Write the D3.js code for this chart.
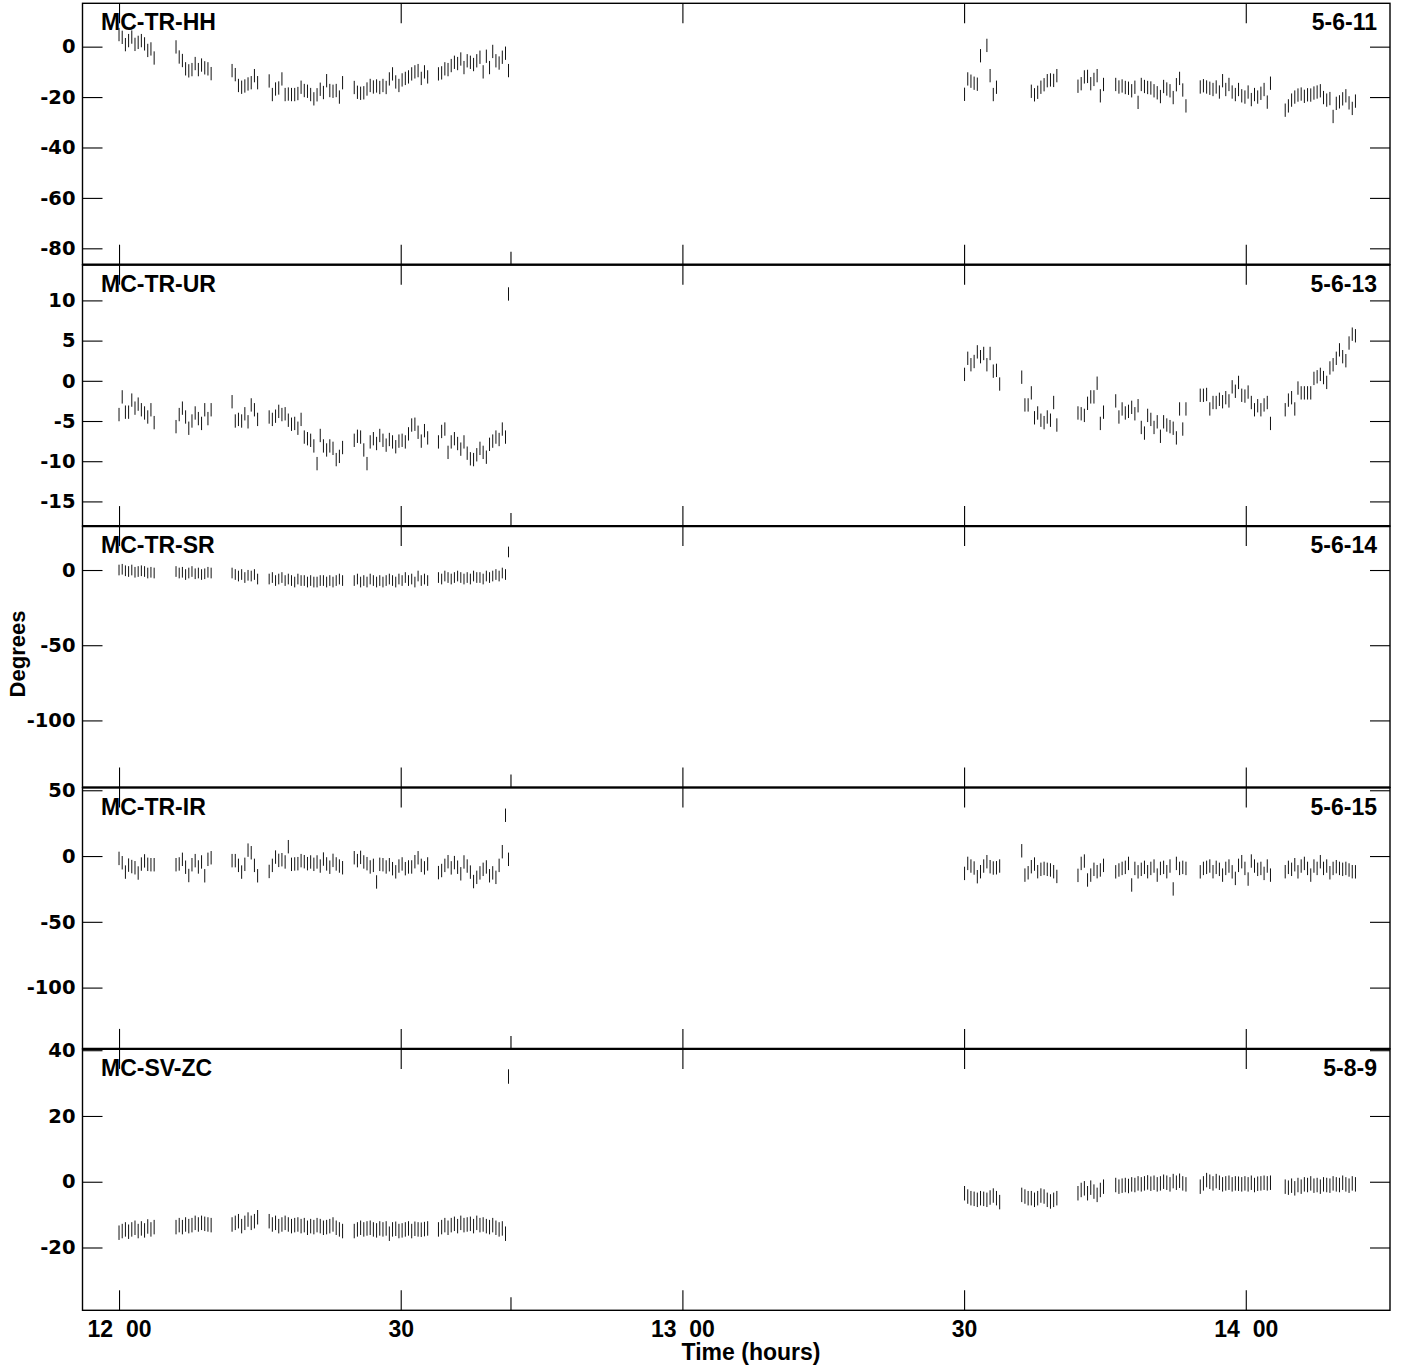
<!DOCTYPE html>
<html><head><meta charset="utf-8">
<script src="https://cdn.jsdelivr.net/npm/d3@7"></script>
<style>body{margin:0;background:#fff}</style>
</head><body>
<svg id="c" width="1401" height="1368"></svg>
<script>
// ---- DATA (minutes after 12:00) ----
const timesA = [
0.00,0.34,0.68,1.02,1.36,1.70,2.04,2.38,2.72,3.06,3.40,3.74,
6.07,6.41,6.75,7.09,7.43,7.77,8.11,8.45,8.79,9.13,9.47,9.81,
12.04,12.38,12.72,13.06,13.40,13.74,14.08,14.42,14.76,
15.99,16.33,16.67,17.01,17.35,17.69,18.03,18.37,18.71,19.05,19.39,19.73,20.07,20.41,20.75,21.09,21.43,21.77,22.11,22.45,22.79,23.13,23.47,23.81,
25.05,25.39,25.73,26.07,26.41,26.75,27.09,27.43,27.77,28.11,28.45,28.79,29.13,29.47,29.81,30.15,30.49,30.83,31.17,31.51,31.85,32.19,32.53,32.87,
34.02,34.36,34.70,35.04,35.38,35.72,36.06,36.40,36.74,37.08,37.42,37.76,38.10,38.44,38.78,39.12,39.46,39.80,40.14,40.48,40.82,41.16,
41.48];
const timesB = [
90.05,90.39,90.73,91.07,91.41,91.75,92.09,92.43,92.77,93.11,93.45,93.79,
96.14,96.48,96.82,97.16,97.50,97.84,98.18,98.52,98.86,99.20,99.54,99.88,
102.13,102.47,102.81,103.15,103.49,103.83,104.17,104.51,104.85,
106.15,106.49,106.83,107.17,107.51,107.85,108.19,108.53,108.87,109.21,109.55,109.89,110.23,110.57,110.91,111.25,111.59,111.93,112.27,112.61,112.95,113.29,113.63,
115.15,115.49,115.83,116.17,116.51,116.85,117.19,117.53,117.87,118.21,118.55,118.89,119.23,119.57,119.91,120.25,120.59,120.93,121.27,121.61,121.95,122.29,122.63,
124.20,124.54,124.88,125.22,125.56,125.90,126.24,126.58,126.92,127.26,127.60,127.94,128.28,128.62,128.96,129.30,129.64,129.98,130.32,130.66,131.00,131.34,131.68];

// MC-TR-HH (5-6-11)
const hhA = [
4.8,3.7,0.8,2.4,3.8,0.9,1.7,2.4,1.1,-1.5,-0.9,-4.5,
-0.1,-4.1,-5.5,-8.8,-9.6,-9.1,-6.7,-9.1,-7.3,-8.4,-8.8,-10.7,
-9.5,-11.1,-15.4,-16.1,-15.6,-14.8,-14.3,-11.5,-14.3,
-13.6,-19,-16.8,-16.4,-12.8,-19,-18.8,-19,-19,-18.6,-16.1,-17.4,-17.7,-19,-20.7,-19.1,-16.9,-18.2,-13.5,-17.4,-17.7,-17.4,-20,-14.3,
-16.2,-18.1,-18.5,-18.3,-16.8,-15.4,-16,-15.6,-16.2,-15.4,-16.2,-12.8,-10.8,-14,-15.4,-13.2,-12.6,-12,-10.8,-10,-9.5,-12.6,-10,-12,
-10.8,-10.4,-8.8,-9.1,-7.5,-6.2,-6.7,-4.9,-8.3,-5.6,-6.2,-7.1,-5.6,-4.2,-10,-3.8,-8.3,-1.9,-5.6,-6.5,-4.2,-2.6,
-9.5];
const hhB = [
-18.9,-12.8,-13.7,-14.5,-14.9,-3.6,null,0.5,-11.5,-19,-16.1,null,
null,null,null,-17.7,-19.1,-18.1,-16.1,-15.1,-13.5,-13.2,-13.4,-11.5,
-15.7,-14.7,-12,-11.8,-14.7,-13,-11.5,-19.5,-15,
-15,-16,-15.6,-16.2,-16.5,-17.5,-16.1,-22.1,-15,-15.8,-16.2,-16.4,-17.5,-18.3,-19.8,-15.8,-16.8,-17.5,-20.2,-15.1,-12.6,-17.2,-23.5,
-16,-15.5,-16,-16.5,-17,-16,-18,-13.5,-17,-15,-18,-19,-17,-19.5,-20,-18,-21,-19,-20,-18.5,-17,-22,-14.5,
-25.2,-23.5,-21.2,-20,-19.2,-18.8,-19.7,-19.1,-19.2,-18.4,-18,-17.5,-20.2,-21.2,-20.6,-27.7,-22.5,-21.9,-20.7,-19.5,-22.3,-24.5,-21.6];

// MC-TR-UR (5-6-13)
const urA = [
-4.2,-2.0,-3.9,-3.9,-2.4,-3.4,-2.9,-3.6,-4.0,-4.5,-3.6,-5.2,
-5.7,-4.2,-3.4,-4.5,-5.9,-5.0,-4.0,-4.7,-5.3,-3.6,-4.7,-3.6,
-2.6,-5.0,-4.8,-5.0,-4.1,-5.1,-3.0,-3.6,-4.8,
-4.5,-4.8,-4.4,-3.8,-4.2,-4.1,-4.9,-5.4,-5.3,-5.9,-4.8,-7.0,-7.2,-7.4,-8.1,-10.3,-6.8,-8.1,-8.6,-8.1,-8.4,-9.8,-9.4,-8.3,
-7.4,-6.9,-7.0,-8.6,-10.3,-7.6,-7.2,-7.8,-6.8,-7.4,-8.0,-7.3,-7.6,-8.2,-7.5,-7.4,-7.6,-6.6,-5.5,-5.4,-6.4,-7.5,-6.2,-7.1,
-7.6,-6.3,-6.0,-8.9,-7.6,-7.2,-7.8,-8.5,-7.6,-9.0,-9.7,-9.8,-9.2,-8.4,-8.9,-9.5,-7.9,-7.5,-7.0,-7.3,-6.0,-7.0,
10.8];
const urB = [
0.8,2.8,2.0,2.4,3.6,3.0,3.4,2.0,3.4,1.2,1.3,-0.4,
0.45,-3.0,-3.0,-1.5,-4.6,-4.0,-4.9,-5.2,-4.5,-4.9,-2.7,-5.5,
-4.0,-4.1,-4.3,-2.8,-2.0,-2.0,-0.3,-5.3,-3.9,
-2.5,-4.5,-3.5,-4.0,-3.8,-3.3,-4.1,-3.1,-5.8,-6.5,-4.3,-4.8,-5.8,-5.1,-6.9,-5.1,-5.5,-5.7,-5.9,-7.1,-3.5,-6.0,-3.5,
-1.8,-1.8,-1.7,-3.5,-2.7,-2.7,-2.3,-2.6,-2.1,-2.5,-0.75,-1.3,-0.2,-1.8,-1.9,-1.4,-2.7,-3.6,-3.1,-3.6,-3.0,-2.7,-5.3,
-3.6,-2.4,-2.1,-3.5,-0.9,-1.5,-1.5,-1.5,-1.5,0.3,0.5,0.8,0.4,-0.2,1.6,2.0,2.8,3.85,3.0,2.5,4.7,5.8,5.6];

// MC-TR-SR (5-6-14)
const srA = [
0,0.5,-0.5,-1,0,-1.5,-1,-0.5,-1,-2,-1.5,-2,
-1,-2,-1.5,-3,-2,-1,-2.5,-2,-3,-2.5,-1.5,-2,
-2,-3,-4,-3,-5,-3.5,-4,-3,-6,
-6,-5,-7,-6,-5,-7,-6,-7,-8,-6,-7,-7,-8,-7,-8,-8,-7,-7,-8,-7,-8,-7,-6,-7,
-7,-6,-8,-7,-8,-6,-7,-8,-7,-8,-7,-6,-7,-8,-6,-7,-5,-7,-6,-8,-4,-7,-6,-7,
-5,-6,-4,-5,-6,-5,-4,-5,-6,-5,-6,-4,-5,-5,-6,-4,-5,-4,-3,-4,-2,-3,
12];
const srB = [];

// MC-TR-IR (5-6-15)
const irA = [
-1.8,-5.1,-12.2,-6.9,-8,-8.9,-12.9,-6.1,-3.7,-6.3,-6.6,-6.6,
-6.6,-6,-2.5,-8.5,-14.8,-6.6,-3.5,-8.3,-4.5,-15,-2.5,-1.3,
-3.5,-3.5,-7.1,-12.2,-6.3,4.5,2.5,-7.1,-15,
-11.7,-7.1,-0.8,-3.3,-2.8,-4.5,7.1,-6.3,-6,-5.8,-3.5,-4.3,-5.8,-4.5,-6.3,-4.5,-7.6,-2.3,-6,-8.5,-3.3,-6,-7.6,-8.9,
-1.3,-3.5,-1,-4.5,-5.8,-8.3,-7.1,-19.7,-6.3,-6.6,-8.3,-6.6,-9.6,-12,-7.6,-6,-9.6,-8.3,-8.3,-4.3,-1.3,-7.1,-9,-6,
-12.6,-11,-7.1,-4.3,-9,-5,-8.5,-13.5,-4.5,-7.6,-12.2,-19.4,-16.2,-12.8,-10.1,-8.3,-15,-12.8,-16.2,-7.1,3.3,31,
-2.5];
const irB = [
-13.2,-5.6,-7.6,-9.1,-15.7,-11.9,-7.6,-4.3,-8.1,-9.1,-8.9,-7.6,
4,-14.5,-12.7,-8.1,-6.1,-11.9,-10.1,-9.4,-10.1,-10.6,-11.9,-15.5,
-14.7,-5.6,-3.8,-18.2,-14.5,-10.1,-11.9,-10.6,-7.1,
-12,-10.6,-9.4,-8.6,-5.6,-22,-9.4,-12,-10.1,-8.6,-11.9,-9.4,-7.6,-14.5,-9.4,-8.6,-11.9,-7.6,-25,-5.6,-9.4,-8.6,-9.4,
-12,-9.4,-8.6,-7.6,-11.9,-8.6,-10.1,-14.5,-9.4,-7.6,-12,-17,-7.1,-4.3,-9.4,-17.5,-3.8,-7.6,-10.1,-9.4,-13.2,-7.6,-14.5,
-11.9,-8.6,-10.1,-6.6,-12,-7.6,-5.6,-9.4,-14.5,-7.6,-9.4,-4.3,-9.4,-7.6,-12.7,-9.4,-8.1,-9.4,-10.1,-9.4,-10.6,-11.9,-12];

// MC-SV-ZC (5-8-9)
const zcA = [
-15.5,-15,-14.5,-15.2,-14.5,-14,-15,-14.2,-14.8,-13.6,-14.5,-13.8,
-13.8,-13.2,-13.8,-13,-13.5,-13.2,-12.5,-13,-12.5,-12.8,-13,-13.2,
-13,-12.5,-12,-13.5,-12.5,-11.5,-12.5,-12,-10.8,
-12,-13,-12.5,-13.5,-13,-12.5,-13,-13.5,-13.2,-13,-13.5,-13.2,-14,-13.5,-13.8,-13.2,-13.5,-14,-13.8,-13.5,-13,-14,-14.5,-15,
-15,-14.5,-14,-14.5,-14.2,-14,-14.5,-14.8,-14.2,-14.5,-14.2,-15.8,-14.5,-14.3,-15,-14.8,-14.5,-14.2,-15,-14.3,-14.5,-14.6,-14.4,-14.2,
-14.5,-13.8,-13.2,-14,-13.2,-12.8,-13.5,-12.5,-13.2,-13,-12.8,-13.5,-12.5,-13.2,-13,-13.5,-13.8,-13.2,-14,-14.5,-14.2,-15.8,
32];
const zcB = [
-3.5,-4.5,-5,-5.2,-5.5,-5,-5.2,-5.5,-4.8,-4.2,-5,-6.2,
-4,-4.5,-5,-5,-5.5,-5,-4.2,-4.5,-5.5,-6,-5.5,-5,
-3.5,-2.5,-2,-3.5,-1.8,-3,-4,-2.5,-1.5,
-1,-1.5,-1.2,-1,-1.3,-0.8,-1,-0.5,-0.8,-0.5,-0.2,-0.6,-0.3,-0.8,-0.5,0,-0.3,-0.8,0.2,-0.3,0.3,-0.5,-0.8,
-1.5,-0.5,0.5,0,-0.5,0.2,-0.3,-0.8,-0.5,-0.3,-0.8,-0.5,-0.6,-0.8,-0.5,-0.8,-0.3,-1,-0.6,-0.5,-0.3,-0.5,-0.3,
-1.5,-1.8,-1.2,-2,-1,-1.5,-0.8,-1,-0.5,-1.2,-1,-1.5,-0.8,-1,-1.2,-0.5,-0.8,-1,-0.3,-0.8,-1.2,-0.5,-0.8];

const panelNames = ["MC-TR-HH","MC-TR-UR","MC-TR-SR","MC-TR-IR","MC-SV-ZC"];
const panelCodes = ["5-6-11","5-6-13","5-6-14","5-6-15","5-8-9"];
const seriesA = [hhA, urA, srA, irA, zcA];
const seriesB = [hhB, urB, srB, irB, zcB];
const errHalf = [2.64, 0.83, 3.55, 5.1, 2.2];
const yDomains = [[-86.5,17.2],[-18.07,14.44],[-144.6,29.2],[-146.6,52.1],[-39.1,40.4]];
const yTicks = [[0,-20,-40,-60,-80],[10,5,0,-5,-10,-15],[0,-50,-100],[50,0,-50,-100],[40,20,0,-20]];
const xDomain = [-3.89, 135.36];
const xTicks = [0,30,60,90,120];
const xTickLabels = ["12  00","30","13  00","30","14  00"];
const markerTick = [41.69];

// ---- DRAW ----
const svg = d3.select("#c");
const L = 82.5, R = 1390, top0 = 3.3, ph = 261.4;
const x = d3.scaleLinear().domain(xDomain).range([L, R]);
const tickFont = "'DejaVu Sans', sans-serif";
const labFont = "'Liberation Sans', Arial, sans-serif";

function styleAxis(sel){
  sel.select(".domain").remove();
  sel.selectAll(".tick line").attr("stroke","#000").attr("stroke-width",1.1);
}

panelNames.forEach((name, i) => {
  const y0 = top0 + i*ph, y1 = y0 + ph;
  const y = d3.scaleLinear().domain(yDomains[i]).range([y1, y0]);
  const g = svg.append("g");
  const cid = "clip"+i;
  svg.append("clipPath").attr("id", cid).append("rect")
    .attr("x", L).attr("y", y0).attr("width", R-L).attr("height", ph);

  const pts = timesA.map((t,j)=>({t, v: seriesA[i][j]}))
    .concat(timesB.map((t,j)=>({t, v: seriesB[i][j]})))
    .filter(d => d.v !== null && d.v !== undefined);

  g.append("g").attr("clip-path", `url(#${cid})`)
    .selectAll("line").data(pts).join("line")
    .attr("x1", d=>x(d.t)).attr("x2", d=>x(d.t))
    .attr("y1", d=>y(d.v - errHalf[i])).attr("y2", d=>y(d.v + errHalf[i]))
    .attr("stroke", "#111").attr("stroke-width", 1);

  const la = g.append("g").attr("transform", `translate(${L},0)`)
    .call(d3.axisLeft(y).tickValues(yTicks[i]).tickSize(-20).tickPadding(7).tickFormat(d=>String(d)));
  styleAxis(la);
  la.selectAll("text").attr("font-family", tickFont).attr("font-weight","bold")
    .attr("font-size","19.5px").attr("fill","#000");
  const ra = g.append("g").attr("transform", `translate(${R},0)`)
    .call(d3.axisLeft(y).tickValues(yTicks[i]).tickSize(20).tickFormat(""));
  styleAxis(ra);
  const ta = g.append("g").attr("transform", `translate(0,${y0})`)
    .call(d3.axisBottom(x).tickValues(xTicks).tickSize(20).tickFormat(""));
  styleAxis(ta);
  const ba = g.append("g").attr("transform", `translate(0,${y1})`)
    .call(d3.axisTop(x).tickValues(xTicks).tickSize(20).tickFormat(""));
  styleAxis(ba);
  const ma = g.append("g").attr("transform", `translate(0,${y1})`)
    .call(d3.axisTop(x).tickValues(markerTick).tickSize(13).tickFormat(""));
  styleAxis(ma);

  g.append("rect").attr("x", L).attr("y", y0).attr("width", R-L).attr("height", ph)
    .attr("fill","none").attr("stroke","#000").attr("stroke-width",1.4);
  if (i > 0) {
    g.append("line").attr("x1", L).attr("x2", R).attr("y1", y0).attr("y2", y0)
      .attr("stroke","#000").attr("stroke-width",2.2);
  }

  g.append("text").attr("x", 101).attr("y", y0+27).text(name)
    .attr("font-family", labFont).attr("font-weight","bold").attr("font-size","23px");
  g.append("text").attr("x", 1377).attr("y", y0+27).attr("text-anchor","end").text(panelCodes[i])
    .attr("font-family", labFont).attr("font-weight","bold").attr("font-size","23px");

  if (i === panelNames.length-1) {
    const xa = svg.append("g").attr("transform", `translate(0,${y1})`)
      .call(d3.axisBottom(x).tickValues(xTicks).tickSize(0).tickPadding(10)
        .tickFormat((d,k)=>xTickLabels[k]));
    xa.select(".domain").remove();
    xa.selectAll("text").attr("font-family", labFont).attr("font-weight","bold")
      .attr("font-size","23px").attr("fill","#000").style("white-space","pre");
  }
});

svg.append("text").attr("x", 751).attr("y", 1360).attr("text-anchor","middle")
  .text("Time (hours)").attr("font-family", labFont).attr("font-weight","bold").attr("font-size","23px");
svg.append("text").attr("transform","translate(25,654) rotate(-90)").attr("text-anchor","middle")
  .text("Degrees").attr("font-family", labFont).attr("font-weight","bold").attr("font-size","22px");
</script>
</body></html>
